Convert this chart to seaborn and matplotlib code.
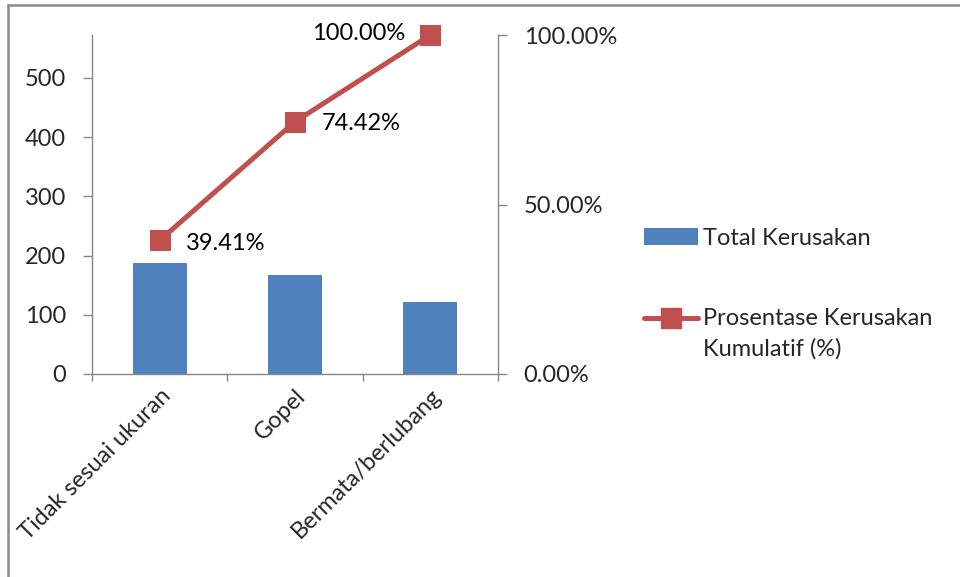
import matplotlib
matplotlib.use("Agg")
import matplotlib.pyplot as plt
import matplotlib.ticker as mticker
from matplotlib.lines import Line2D
from matplotlib.patches import Patch
import seaborn as sns
import pandas as pd
import numpy as np

categories = ["Tidak sesuai ukuran", "Gopel", "Bermata/berlubang"]
total_kerusakan = [188, 167, 122]
kumulatif_pct = [0.3941, 0.7442, 1.0]
kumulatif_labels = ["39.41%", "74.42%", "100.00%"]
left_ticks = [0, 100, 200, 300, 400, 500]
right_ticks = [0.0, 0.5, 1.0]

sns.set_theme(style="white")
plt.rcParams["font.family"] = ["Lato", "DejaVu Sans"]
FS = 17
BLUE = "#4F81BD"
RED = "#C0504D"
GRAY = "#868686"

df = pd.DataFrame({"cat": categories, "total": total_kerusakan, "cum": kumulatif_pct})

fig = plt.figure(figsize=(9.6, 5.77), dpi=100)
ax = fig.add_axes([92/960, 1-374/577, (498-92)/960, (374-35)/577])
sns.barplot(data=df, x="cat", y="total", color=BLUE, width=0.4, ax=ax,
            saturation=1, edgecolor="none")
ax.set_xlim(-0.5, 2.5)
ax.set_ylim(0, 572.4)
ax.set_yticks(left_ticks)
ax.set_xlabel("")
ax.set_ylabel("")

ax2 = ax.twinx()
sns.lineplot(data=df, x="cat", y="cum", color=RED, linewidth=3.6, marker="s",
             markersize=14, markeredgecolor=RED, ax=ax2, sort=False, clip_on=False)
ax2.set_ylim(0, 1.0)
ax2.set_yticks(right_ticks)
ax2.yaxis.set_major_formatter(mticker.FuncFormatter(lambda v, p: f"{v*100:.2f}%"))
ax2.set_ylabel("")
ax2.set_xlim(-0.5, 2.5)

# data labels
offsets = [(19, -2, "left"), (19, -1, "left"), (-18, 1, "right")]
for i, (lab, v) in enumerate(zip(kumulatif_labels, kumulatif_pct)):
    dx, dy, ha = offsets[i]
    ax2.annotate(lab, (i, v), xytext=(dx, dy), textcoords="offset points",
                 ha=ha, va="center", fontsize=FS, color="black")

# spines
for a in (ax, ax2):
    for s in a.spines.values():
        s.set_color(GRAY)
        s.set_linewidth(1.0)
ax.spines["top"].set_visible(False)
ax.spines["right"].set_visible(False)
ax2.spines["top"].set_visible(False)
ax2.spines["left"].set_visible(False)
ax2.spines["bottom"].set_visible(False)

ax.tick_params(axis="y", which="major", direction="out", length=6.5, width=1,
               color=GRAY, labelsize=FS, pad=12, left=True)
ax2.tick_params(axis="y", which="major", direction="out", length=6.5, width=1,
                color=GRAY, labelsize=FS, pad=12, right=True)
ax.set_xticks([-0.5, 0.5, 1.5, 2.5], minor=True)
ax.tick_params(axis="x", which="minor", direction="out", length=5, width=1,
               color=GRAY, bottom=True)
ax.tick_params(axis="x", which="major", length=0, labelsize=FS, pad=8)
ax.set_xticks(range(len(categories)))
ax.set_xticklabels(categories, rotation=45, ha="right", rotation_mode="anchor")

# legend
handles = [Patch(facecolor=BLUE, edgecolor="none"),
           Line2D([0], [0], color=RED, lw=3.6, marker="s", markersize=14)]
labels = ["Total Kerusakan", "Prosentase Kerusakan\nKumulatif (%)"]
leg = fig.legend(handles, labels, loc="upper left", bbox_to_anchor=(644/960, 1-228/577),
                 frameon=False, fontsize=FS, handlelength=2.3, handletextpad=0.2,
                 labelspacing=2.5, borderpad=0, borderaxespad=0)
for t in leg.get_texts():
    t.set_linespacing(1.5)
# align the line handle with the first text line (as in the reference)
lh = leg.legend_handles[1]
lh.set_ydata(np.asarray(lh.get_ydata(), dtype=float) + 11.5)

# outer chart border (left and top edges)
fig.add_artist(Line2D([8/960, 8/960], [0, 1-5/577], transform=fig.transFigure,
                      color="#8a8a8a", lw=1.8))
fig.add_artist(Line2D([8/960, 1], [1-5/577, 1-5/577], transform=fig.transFigure,
                      color="#8a8a8a", lw=1.8))

fig.savefig("out.png", dpi=100)
